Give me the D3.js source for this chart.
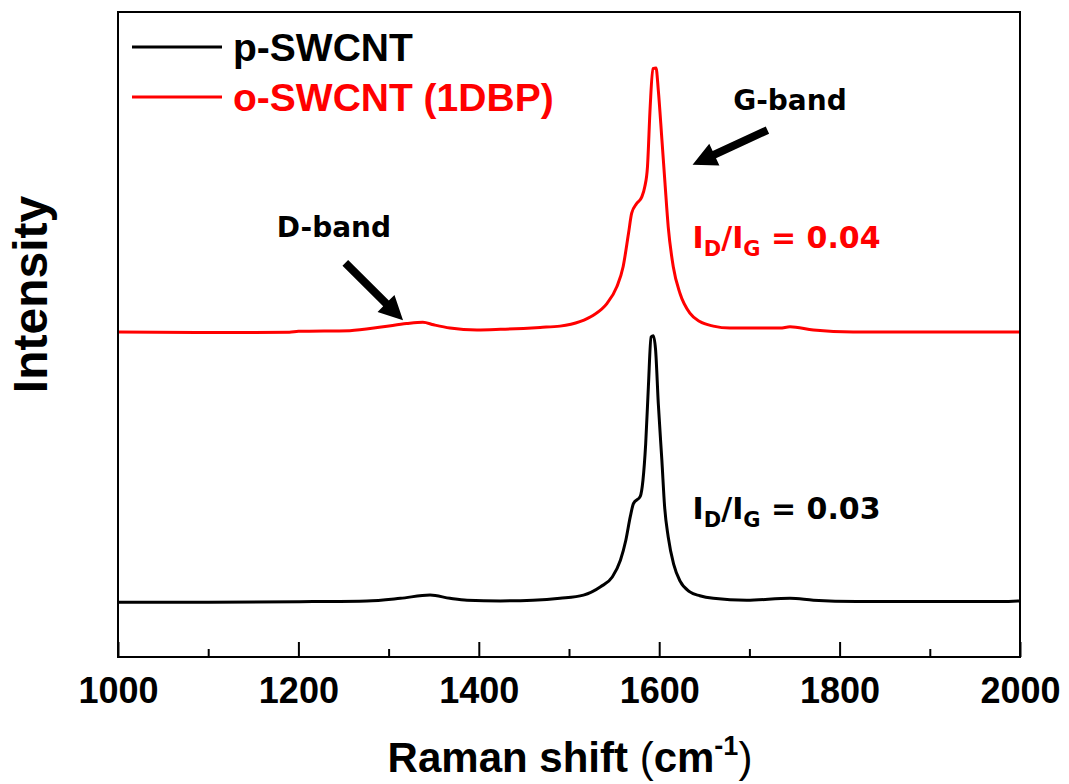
<!DOCTYPE html>
<html lang="en">
  <head>
    <meta charset="utf-8" />
    <title>Raman spectra of p-SWCNT and o-SWCNT (1DBP)</title>
    <script src="https://cdnjs.cloudflare.com/ajax/libs/d3/7.8.5/d3.min.js"></script>
    <style type="text/css">
      body { margin: 0; background: #fff; }
      svg text { font-family: "Liberation Sans", Arial, sans-serif; font-weight: bold; }
      .note { font-family: "DejaVu Sans", Verdana, sans-serif; }
    </style>
  </head>

  <body>
    <div id="chart"></div>
    <script>
      // Raman shift (cm-1) and stacked intensity (a.u.)
      const pShift = [1000, 1100, 1216, 1276, 1313, 1346, 1368, 1387, 1424, 1460, 1490, 1516, 1535, 1548,
        1557, 1563, 1568, 1571.5, 1579, 1582, 1585, 1588, 1591, 1593.5, 1596, 1599, 1603, 1606, 1610,
        1616, 1623, 1634, 1645, 1660, 1697, 1745, 1771, 1819, 1882, 1980, 2000];
      const pIntensity = [8.5, 8.5, 8.6, 8.7, 9.1, 9.6, 9.1, 8.8, 8.7, 8.8, 9.1, 9.6, 10.9, 12.4,
        15.0, 18.1, 21.8, 23.8, 24.9, 27.4, 33.0, 41.9, 49.6, 49.8, 47.6, 39.3, 30.4, 23.3, 18.6,
        14.4, 11.8, 10.1, 9.5, 9.1, 8.8, 9.1, 8.8, 8.6, 8.6, 8.6, 8.7];

      const oShift = [1000, 1100, 1146, 1190, 1200, 1257, 1294, 1320, 1338, 1350, 1368, 1398, 1424,
        1468, 1490, 1512, 1527, 1542, 1553, 1560, 1566, 1569.5, 1575, 1580.6, 1584, 1587, 1590,
        1593, 1596.5, 1599, 1603, 1606.4, 1610, 1615.6, 1623, 1634, 1645, 1660, 1678.5, 1734, 1745,
        1771, 1815, 1882, 2000];
      const oIntensity = [50.4, 50.3, 50.3, 50.35, 50.5, 50.6, 51.2, 51.7, 51.9, 51.5, 51.0, 50.7, 50.8,
        51.1, 51.3, 52.0, 53.0, 54.8, 57.4, 60.5, 65.7, 68.8, 70.3, 71.3, 72.9, 76.0, 85.3,
        91.2, 91.3, 87.9, 80.2, 73.5, 66.7, 60.5, 56.4, 53.3, 52.0, 51.3, 51.0, 51.0, 51.2,
        50.7, 50.4, 50.4, 50.4];

      const majorTicks = [1000, 1200, 1400, 1600, 1800, 2000];
      const minorTicks = [1100, 1300, 1500, 1700, 1900];

      const W = 1069, H = 784;
      const margin = { top: 12, right: 49, bottom: 127, left: 118 };
      const width = W - margin.left - margin.right;
      const height = H - margin.top - margin.bottom;

      const svg = d3.select('#chart')
        .append('svg')
        .attr('width', W)
        .attr('height', H);

      const g = svg.append('g')
        .attr('transform', `translate(${margin.left},${margin.top})`);

      const x = d3.scaleLinear().domain([1000, 2000]).range([0, width]);
      const y = d3.scaleLinear().domain([0, 100]).range([height, 0]);

      const line = d3.line()
        .x(d => x(d[0]))
        .y(d => y(d[1]))
        .curve(d3.curveMonotoneX);

      g.append('path')
        .attr('d', line(d3.zip(pShift, pIntensity)))
        .attr('fill', 'none')
        .attr('stroke', '#000')
        .attr('stroke-width', 3)
        .attr('stroke-linejoin', 'round');

      g.append('path')
        .attr('d', line(d3.zip(oShift, oIntensity)))
        .attr('fill', 'none')
        .attr('stroke', '#ff0000')
        .attr('stroke-width', 3)
        .attr('stroke-linejoin', 'round');

      // frame
      g.append('rect')
        .attr('width', width)
        .attr('height', height)
        .attr('fill', 'none')
        .attr('stroke', '#000')
        .attr('stroke-width', 2);

      // x axis, ticks pointing inward
      const xAxis = g.append('g')
        .attr('transform', `translate(0,${height})`)
        .call(d3.axisBottom(x).tickValues(majorTicks).tickFormat(d3.format('d'))
          .tickSizeInner(-15).tickSizeOuter(0));
      xAxis.select('.domain').remove();
      xAxis.selectAll('line').attr('stroke', '#000').attr('stroke-width', 2);
      xAxis.selectAll('text')
        .attr('y', 46)
        .attr('dy', 0)
        .attr('fill', '#000')
        .style('font-size', '36px');

      const xMinor = g.append('g')
        .attr('transform', `translate(0,${height})`)
        .call(d3.axisBottom(x).tickValues(minorTicks).tickSize(-8).tickFormat(''));
      xMinor.select('.domain').remove();
      xMinor.selectAll('line').attr('stroke', '#000').attr('stroke-width', 2);

      // axis titles
      const xTitle = svg.append('text')
        .attr('x', 570)
        .attr('y', 772)
        .attr('text-anchor', 'middle')
        .style('font-size', '42px');
      xTitle.append('tspan').text('Raman shift ');
      xTitle.append('tspan').text('(').style('font-weight', 'normal');
      xTitle.append('tspan').text('cm');
      xTitle.append('tspan').text('-1').attr('dy', -17).style('font-size', '27px');
      xTitle.append('tspan').text(')').attr('dy', 17).style('font-weight', 'normal');

      svg.append('text')
        .attr('transform', `translate(47,${(193 + 396) / 2}) rotate(-90)`)
        .attr('text-anchor', 'middle')
        .style('font-size', '48px')
        .text('Intensity');

      // legend
      const legend = [
        { label: 'p-SWCNT', color: '#000' },
        { label: 'o-SWCNT (1DBP)', color: '#ff0000' }
      ];
      const lg = svg.selectAll('.legend')
        .data(legend)
        .enter().append('g')
        .attr('class', 'legend')
        .attr('transform', (d, i) => `translate(132,${47 + i * 50})`);
      lg.append('line')
        .attr('x1', 0).attr('x2', 90)
        .attr('stroke', d => d.color)
        .attr('stroke-width', 3);
      lg.append('text')
        .attr('x', 101)
        .attr('y', 14)
        .attr('fill', d => d.color)
        .style('font-size', '39px')
        .text(d => d.label);

      // annotations
      function arrow(x0, y0, x1, y1) {
        const a = Math.atan2(y1 - y0, x1 - x0);
        const headLen = 24, headW = 12, shaft = 4;
        const bx = x1 - headLen * Math.cos(a), by = y1 - headLen * Math.sin(a);
        const nx = -Math.sin(a), ny = Math.cos(a);
        const pts = [
          [x0 + nx * shaft, y0 + ny * shaft],
          [bx + nx * shaft, by + ny * shaft],
          [bx + nx * headW, by + ny * headW],
          [x1, y1],
          [bx - nx * headW, by - ny * headW],
          [bx - nx * shaft, by - ny * shaft],
          [x0 - nx * shaft, y0 - ny * shaft]
        ];
        g.append('polygon')
          .attr('points', pts.map(p => p.join(',')).join(' '))
          .attr('fill', '#000');
      }
      arrow(x(1252), y(61.1), x(1316), y(52.2));
      arrow(x(1720), y(81.7), x(1637), y(76.3));

      g.append('text').attr('class', 'note')
        .attr('x', x(1176)).attr('y', y(65.1))
        .style('font-size', '28px')
        .text('D-band');
      g.append('text').attr('class', 'note')
        .attr('x', x(1682)).attr('y', y(84.8))
        .style('font-size', '28px')
        .text('G-band');

      function ratio(xv, yv, value, color) {
        const t = g.append('text').attr('class', 'note')
          .attr('x', x(xv)).attr('y', y(yv))
          .attr('fill', color)
          .style('font-size', '30px');
        t.append('tspan').text('I');
        t.append('tspan').text('D').attr('dy', 8).style('font-size', '21px');
        t.append('tspan').text('/I').attr('dy', -8);
        t.append('tspan').text('G').attr('dy', 8).style('font-size', '21px');
        t.append('tspan').text(' = ' + value).attr('dy', -8);
      }
      ratio(1637, 63.4, '0.04', '#ff0000');
      ratio(1637, 21.4, '0.03', '#000');
    </script>
  </body>
</html>
